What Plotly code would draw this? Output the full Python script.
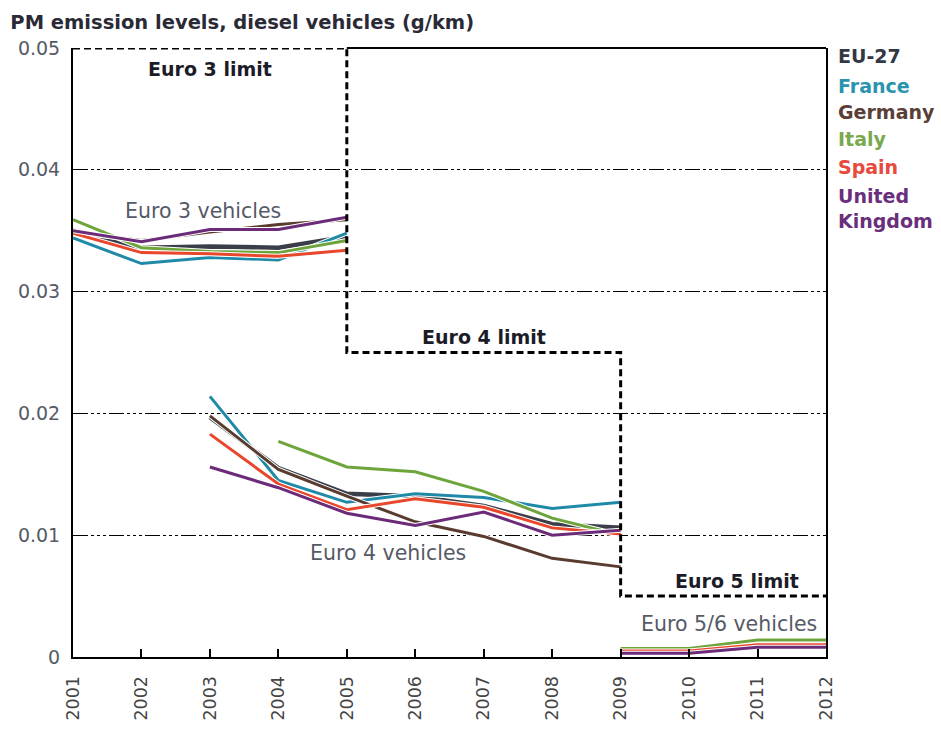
import plotly.graph_objects as go

# Years on the x axis
years = list(range(2001, 2013))
euro3_years = [2001, 2002, 2003, 2004, 2005]
euro4_years = [2003, 2004, 2005, 2006, 2007, 2008, 2009]
euro56_years = [2009, 2010, 2011, 2012]

countries = ["EU-27", "France", "Germany", "Italy", "Spain", "United Kingdom"]

# PM emissions (g/km), Euro 3 vehicles
euro3_eu27 = [0.0350, 0.0336, 0.0337, 0.0336, 0.0345]
euro3_france = [0.0344, 0.0323, 0.0328, 0.0326, 0.0348]
euro3_germany = [0.0349, 0.0342, 0.0349, 0.0355, 0.0359]
euro3_italy = [0.0359, 0.0336, 0.0333, 0.0332, 0.0342]
euro3_spain = [0.0348, 0.0332, 0.0331, 0.0329, 0.0334]
euro3_uk = [0.0350, 0.0341, 0.0351, 0.0351, 0.0361]

# PM emissions (g/km), Euro 4 vehicles
euro4_eu27 = [0.0197, 0.0155, 0.0134, 0.0132, 0.0124, 0.0109, 0.0106]
euro4_france = [0.0214, 0.0145, 0.0127, 0.0134, 0.0131, 0.0122, 0.0127]
euro4_germany = [0.0198, 0.0154, 0.0132, 0.0111, 0.0099, 0.0081, 0.0074]
euro4_italy = [None, 0.0177, 0.0156, 0.0152, 0.0136, 0.0114, 0.0100]
euro4_spain = [0.0183, 0.0142, 0.0121, 0.0130, 0.0123, 0.0106, 0.0101]
euro4_uk = [0.0156, 0.0139, 0.0118, 0.0108, 0.0119, 0.0100, 0.0104]

# PM emissions (g/km), Euro 5/6 vehicles
euro56_eu27 = [0.0005, 0.0005, 0.0011, 0.0011]
euro56_france = [0.0005, 0.0005, 0.0011, 0.0011]
euro56_germany = [0.0005, 0.0005, 0.0010, 0.0010]
euro56_italy = [0.0007, 0.0007, 0.0014, 0.0014]
euro56_spain = [0.0005, 0.0005, 0.0010, 0.0010]
euro56_uk = [0.0003, 0.0003, 0.0008, 0.0008]

# Regulatory limits (step line)
limit_years = [2001, 2005, 2009, 2012]
limit_values = [0.05, 0.025, 0.005, 0.005]

y_ticks = [0, 0.01, 0.02, 0.03, 0.04, 0.05]
y_ticktext = ["0", "0.01", "0.02", "0.03", "0.04", "0.05"]

colors = {
    "EU-27": "#3b3e48",
    "France": "#1f8aa8",
    "Germany": "#5a3b30",
    "Italy": "#6da53c",
    "Spain": "#e8472c",
    "United Kingdom": "#6b2b78",
}
label_colors = {
    "EU-27": "#333844",
    "France": "#2a93ae",
    "Germany": "#5a3f38",
    "Italy": "#7aa84c",
    "Spain": "#e64a3c",
    "United Kingdom": "#6a2e7c",
}
widths = {c: 3.0 for c in countries}
widths["EU-27"] = 4.6

groups = [
    (euro3_years, [euro3_eu27, euro3_france, euro3_germany, euro3_italy, euro3_spain, euro3_uk]),
    (euro4_years, [euro4_eu27, euro4_france, euro4_germany, euro4_italy, euro4_spain, euro4_uk]),
    (euro56_years, [euro56_eu27, euro56_france, euro56_germany, euro56_italy, euro56_spain, euro56_uk]),
]

FONT = "DejaVu Sans"

fig = go.Figure()

for gx, series in groups:
    for name, vals in zip(countries, series):
        # white halo under each line
        fig.add_trace(go.Scatter(
            x=gx, y=vals, mode="lines", showlegend=False, hoverinfo="skip",
            line=dict(color="white", width=widths[name] + 2.0),
        ))
        fig.add_trace(go.Scatter(
            x=gx, y=vals, mode="lines", name=name, showlegend=False,
            line=dict(color=colors[name], width=widths[name]),
        ))

fig.add_trace(go.Scatter(
    x=limit_years, y=limit_values, mode="lines", showlegend=False,
    line=dict(color="black", width=3, dash="7px,4px", shape="hv"),
    hoverinfo="skip",
))

# top frame edge beyond the Euro 3 limit
fig.add_shape(type="line", xref="x", yref="paper", x0=limit_years[1], x1=limit_years[-1],
              y0=1, y1=1, line=dict(color="black", width=2))

# Country labels on the right
label_y = [0.04935, 0.04685, 0.04475, 0.0425, 0.0402, 0.0368]
for name, ly in zip(countries, label_y):
    fig.add_annotation(
        x=1.013, xref="paper", y=ly, yref="y", xanchor="left", yanchor="middle",
        text=("<b>United<br>Kingdom</b>" if name == "United Kingdom" else f"<b>{name}</b>"),
        showarrow=False, align="left",
        font=dict(family=FONT, size=19, color=label_colors[name]),
    )

annot_style = dict(showarrow=False, xref="x", yref="y")
fig.add_annotation(x=2003, y=0.0483, text="<b>Euro 3 limit</b>",
                   font=dict(family=FONT, size=19, color="#1c1c28"), **annot_style)
fig.add_annotation(x=2007, y=0.0263, text="<b>Euro 4 limit</b>",
                   font=dict(family=FONT, size=19, color="#1c1c28"), **annot_style)
fig.add_annotation(x=2010.7, y=0.0062, text="<b>Euro 5 limit</b>",
                   font=dict(family=FONT, size=19, color="#1c1c28"), **annot_style)
fig.add_annotation(x=2002.9, y=0.0366, text="Euro 3 vehicles",
                   font=dict(family=FONT, size=20.5, color="#555a66"), **annot_style)
fig.add_annotation(x=2005.6, y=0.0085, text="Euro 4 vehicles",
                   font=dict(family=FONT, size=20.5, color="#555a66"), **annot_style)
fig.add_annotation(x=2010.58, y=0.0027, text="Euro 5/6 vehicles",
                   font=dict(family=FONT, size=20.5, color="#555a66"), **annot_style)

fig.update_layout(
    width=941, height=730,
    margin=dict(l=73, r=115, t=48, b=73),
    paper_bgcolor="white", plot_bgcolor="white",
    title=dict(text="<b>PM emission levels, diesel vehicles (g/km)</b>",
               x=0.011, xanchor="left", y=0.97, yanchor="middle",
               font=dict(family=FONT, size=19.5, color="#2a2a36")),
    font=dict(family=FONT),
    showlegend=False,
)

fig.update_xaxes(
    range=[2001, 2012], tickvals=years, ticktext=[str(y) for y in years],
    tickangle=-90, ticks="inside", ticklen=8, tickwidth=1.5, tickcolor="black",
    showline=True, linecolor="black", linewidth=2, showgrid=False, zeroline=False,
    automargin=False, ticklabelstandoff=10,
    tickfont=dict(family=FONT, size=17.5, color="#444"),
)
fig.update_yaxes(
    range=[0, 0.05], tickvals=y_ticks, ticktext=y_ticktext,
    showline=True, linecolor="black", linewidth=2, mirror=True,
    showgrid=True, gridcolor="black", gridwidth=1.4,
    griddash="15px,3px,3px,3px,3px,3px,3px,3px",
    zeroline=False, ticks="", ticklabelstandoff=7, automargin=False,
    tickfont=dict(family=FONT, size=19, color="#555a66"),
)

fig.write_html("out.html")
